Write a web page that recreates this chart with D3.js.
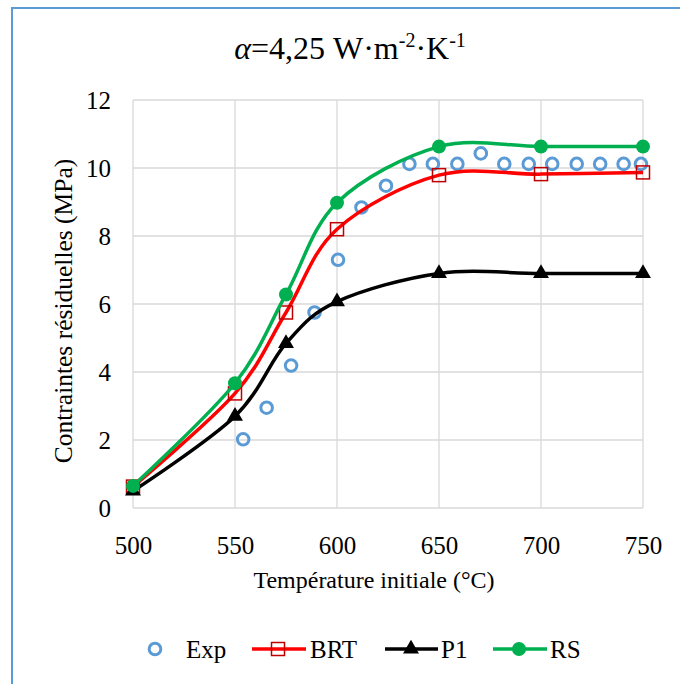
<!DOCTYPE html>
<html><head><meta charset="utf-8">
<script src="https://cdn.jsdelivr.net/npm/d3@7"></script>
<style>body{margin:0;background:#fff;} svg{display:block;}</style>
</head><body>
<script>
const xTicks = [500, 550, 600, 650, 700, 750];
const yTicks = [0, 2, 4, 6, 8, 10, 12];
const expT = [554, 565.5, 577.5, 589, 600.5, 612, 624, 635.5, 647, 659, 670.5, 682, 694, 705.5, 717.5, 729, 740.5, 749];
const expV = [2.02, 2.95, 4.19, 5.75, 7.3, 8.84, 9.48, 10.12, 10.12, 10.12, 10.43, 10.12, 10.12, 10.12, 10.12, 10.12, 10.12, 10.12];
const modelT = [500, 550, 575, 600, 650, 700, 750];
const brtV = [0.63, 3.37, 5.75, 8.2, 9.79, 9.82, 9.87];
const p1V = [0.5, 2.7, 4.84, 6.07, 6.9, 6.9, 6.9];
const rsV = [0.65, 3.67, 6.28, 8.98, 10.63, 10.63, 10.63];
const seriesNames = ["Exp", "BRT", "P1", "RS"];

const W = 680, H = 684;
const svg = d3.select("body").append("svg").attr("width", W).attr("height", H);
const FF = "Liberation Serif";
const tickFs = 25, legFs = 25;

svg.append("rect").attr("x", 12).attr("y", 8).attr("width", 700).attr("height", 720)
  .attr("fill", "none").attr("stroke", "#5b9bd5").attr("stroke-width", 2);

const x = d3.scaleLinear().domain([500, 750]).range([133, 643]);
const y = d3.scaleLinear().domain([0, 12]).range([508, 100]);

const g = svg.append("g");
g.selectAll(".hg").data(yTicks).join("line")
  .attr("x1", x(500)).attr("x2", x(750)).attr("y1", d => y(d)).attr("y2", d => y(d))
  .attr("stroke", "#d9d9d9").attr("stroke-width", 1.3);
g.selectAll(".vg").data(xTicks).join("line")
  .attr("y1", y(0)).attr("y2", y(12)).attr("x1", d => x(d)).attr("x2", d => x(d))
  .attr("stroke", "#d9d9d9").attr("stroke-width", 1.3);

const xAxis = d3.axisBottom(x).tickValues(xTicks).tickSize(0).tickPadding(0);
const yAxis = d3.axisLeft(y).tickValues(yTicks).tickSize(0).tickPadding(0);
const xa = svg.append("g").attr("transform", `translate(0,${y(0)})`).call(xAxis);
xa.attr("font-family", FF).attr("font-size", tickFs);
xa.select(".domain").remove();
xa.selectAll("text").attr("y", 0).attr("dy", 46).attr("fill", "#000");
const ya = svg.append("g").attr("transform", `translate(${x(500) - 22},0)`).call(yAxis);
ya.attr("font-family", FF).attr("font-size", tickFs);
ya.select(".domain").remove();
ya.selectAll("text").attr("dy", "0.35em").attr("fill", "#000");

const title = svg.append("text").attr("x", 350).attr("y", 59).attr("text-anchor", "middle")
  .attr("font-family", FF).attr("font-size", 32).attr("fill", "#000");
title.append("tspan").attr("font-style", "italic").text("α");
title.append("tspan").text("=4,25 W·m");
title.append("tspan").attr("font-size", 20).attr("dy", -12).text("-2");
title.append("tspan").attr("dy", 12).text("·K");
title.append("tspan").attr("font-size", 20).attr("dy", -12).text("-1");

svg.append("text").attr("x", 374).attr("y", 588).attr("text-anchor", "middle")
  .attr("font-family", FF).attr("font-size", 24).attr("fill", "#000").text("Température initiale (°C)");
svg.append("text").attr("transform", `translate(72,311) rotate(-90)`)
  .attr("text-anchor", "middle").attr("font-family", FF).attr("font-size", 25.5).attr("fill", "#000")
  .text("Contraintes résiduelles (MPa)");

const line = d3.line().x(d => x(d[0])).y(d => y(d[1])).curve(d3.curveCardinal.tension(0));
const zip = (a, b) => a.map((v, i) => [v, b[i]]);

svg.append("g").selectAll("circle").data(zip(expT, expV)).join("circle")
  .attr("cx", d => x(d[0])).attr("cy", d => y(d[1])).attr("r", 5.8)
  .attr("fill", "none").attr("stroke", "#5b9bd5").attr("stroke-width", 3);

const brt = zip(modelT, brtV);
svg.append("path").attr("d", line(brt)).attr("fill", "none").attr("stroke", "#ff0000").attr("stroke-width", 3.5);
svg.append("g").selectAll("rect").data(brt).join("rect")
  .attr("x", d => x(d[0]) - 6.5).attr("y", d => y(d[1]) - 6.5).attr("width", 13).attr("height", 13)
  .attr("fill", "none").attr("stroke", "#c00000").attr("stroke-width", 1.5);

const p1 = zip(modelT, p1V);
const tri = d3.symbol().type(d3.symbolTriangle).size(110);
svg.append("path").attr("d", line(p1)).attr("fill", "none").attr("stroke", "#000").attr("stroke-width", 3.5);
svg.append("g").selectAll("path").data(p1).join("path")
  .attr("transform", d => `translate(${x(d[0])},${y(d[1])})`).attr("d", tri()).attr("fill", "#000");

const rs = zip(modelT, rsV);
svg.append("path").attr("d", line(rs)).attr("fill", "none").attr("stroke", "#00b050").attr("stroke-width", 3.5);
svg.append("g").selectAll("circle").data(rs).join("circle")
  .attr("cx", d => x(d[0])).attr("cy", d => y(d[1])).attr("r", 7).attr("fill", "#00b050");

const ly = 649;
const leg = svg.append("g");
leg.append("circle").attr("cx", 155).attr("cy", ly).attr("r", 5.8).attr("fill", "none").attr("stroke", "#5b9bd5").attr("stroke-width", 3);
leg.append("line").attr("x1", 252).attr("x2", 306).attr("y1", ly).attr("y2", ly).attr("stroke", "#ff0000").attr("stroke-width", 3.5);
leg.append("rect").attr("x", 278 - 6.5).attr("y", ly - 6.5).attr("width", 13).attr("height", 13).attr("fill", "none").attr("stroke", "#c00000").attr("stroke-width", 1.5);
leg.append("line").attr("x1", 385).attr("x2", 438).attr("y1", ly).attr("y2", ly).attr("stroke", "#000").attr("stroke-width", 3.5);
leg.append("path").attr("transform", `translate(411,${ly})`).attr("d", tri()).attr("fill", "#000");
leg.append("line").attr("x1", 493).attr("x2", 547).attr("y1", ly).attr("y2", ly).attr("stroke", "#00b050").attr("stroke-width", 3.5);
leg.append("circle").attr("cx", 519).attr("cy", ly).attr("r", 7).attr("fill", "#00b050");
const lx = [186, 310, 441, 550];
leg.selectAll("text").data(seriesNames).join("text")
  .attr("x", (d, i) => lx[i]).attr("y", ly + 9).attr("font-family", FF).attr("font-size", legFs).attr("fill", "#000").text(d => d);
</script>
</body></html>
